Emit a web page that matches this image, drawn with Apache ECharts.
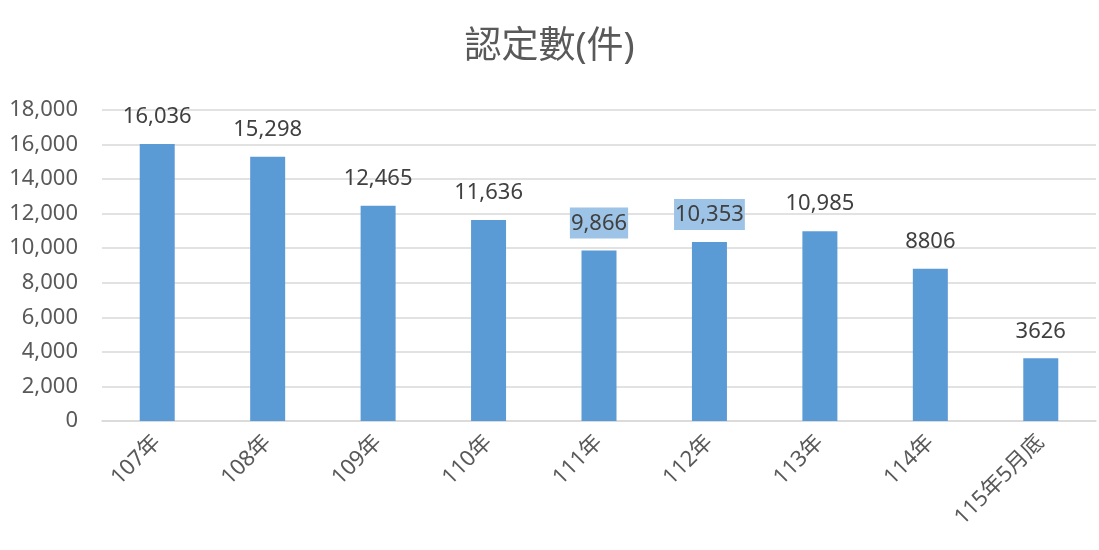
<!DOCTYPE html>
<html>
<head>
<meta charset="utf-8">
<script src="https://cdn.jsdelivr.net/npm/echarts@6/dist/echarts.min.js"></script>
<style>
  html, body { margin: 0; padding: 0; background: #fff; }
  #chart { width: 1099px; height: 550px; }
</style>
</head>
<body>
<div id="chart"></div>
<script>
var categories = ['107年', '108年', '109年', '110年', '111年', '112年', '113年', '114年', '115年5月底'];
var values = [16036, 15298, 12465, 11636, 9866, 10353, 10985, 8806, 3626];
var labelTexts = ['16,036', '15,298', '12,465', '11,636', '9,866', '10,353', '10,985', '8806', '3626'];
var highlighted = [4, 5];

var FONT = "'Noto Sans', 'Noto Sans CJK TC', sans-serif";

var chart = echarts.init(document.getElementById('chart'));

var seriesData = values.map(function (v, i) {
    var item = { value: v };
    if (highlighted.indexOf(i) >= 0) {
        item.label = {
            backgroundColor: '#9DC3E6',
            padding: [5, 1, 4, 1],
            distance: 12
        };
    }
    return item;
});

var option = {
    animation: false,
    title: {
        text: '認定數(件)',
        left: 'center',
        top: 24,
        textStyle: {
            fontFamily: FONT,
            fontSize: 37,
            fontWeight: 'normal',
            color: '#595959'
        }
    },
    grid: {
        left: 102,
        right: 3,
        top: 110,
        bottom: 129
    },
    xAxis: {
        type: 'category',
        data: categories,
        axisLine: { lineStyle: { color: '#D9D9D9', width: 1.5 } },
        axisTick: { show: false },
        axisLabel: {
            rotate: 45,
            margin: 18,
            fontFamily: FONT,
            fontSize: 22,
            color: '#595959',
            interval: 0
        }
    },
    yAxis: {
        type: 'value',
        min: 0,
        max: 18000,
        interval: 2000,
        axisLine: { show: false },
        axisTick: { show: false },
        splitLine: { lineStyle: { color: '#D9D9D9', width: 1.5 } },
        axisLabel: {
            margin: 24,
            fontFamily: FONT,
            fontSize: 22,
            color: '#595959',
            formatter: function (v) {
                return v.toString().replace(/\B(?=(\d{3})+(?!\d))/g, ',');
            }
        }
    },
    series: [{
        type: 'bar',
        data: seriesData,
        barWidth: 35,
        itemStyle: { color: '#5B9BD5' },
        label: {
            show: true,
            position: 'top',
            distance: 16,
            fontFamily: FONT,
            fontSize: 22,
            color: '#404040',
            formatter: function (p) {
                return labelTexts[p.dataIndex];
            }
        }
    }]
};

chart.setOption(option);
</script>
</body>
</html>
